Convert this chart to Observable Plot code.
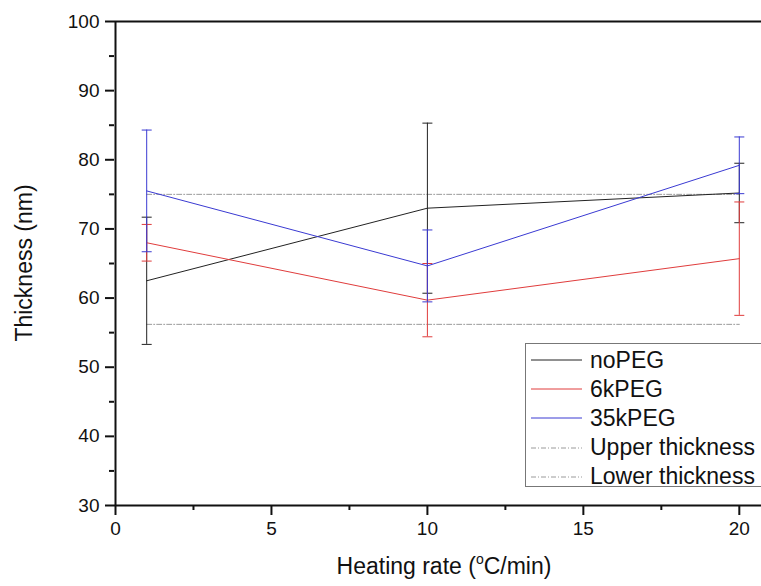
<!DOCTYPE html>
<html>
<head>
<meta charset="utf-8">
<script src="https://cdn.jsdelivr.net/npm/d3@7"></script>
<script src="https://cdn.jsdelivr.net/npm/@observablehq/plot@0.6"></script>
<style>
  html, body { margin: 0; padding: 0; background: #fff; overflow: hidden; }
  #wrap { position: relative; width: 761px; height: 586px; overflow: hidden; font-family: "Liberation Sans", Arial, sans-serif; color: #111; }
  #wrap svg { overflow: hidden; }
  .xtitle { position: absolute; left: 0; width: 888px; text-align: center; top: 553px; font-size: 23px; white-space: nowrap; }
  .xtitle sup { font-size: 14px; vertical-align: 0; position: relative; top: -10px; }
  .ytitle { position: absolute; left: 24px; top: 263px; font-size: 23px; white-space: nowrap; transform: translate(-50%, -50%) rotate(-90deg); }
  #legend { position: absolute; left: 525px; top: 343px; width: 260px; height: 144px; border: 1px solid #777; background: #fff; box-sizing: border-box; }
  .lrow { position: absolute; left: 0; height: 28px; display: flex; align-items: center; font-size: 23px; white-space: nowrap; }
  .lrow svg { margin-left: 5px; margin-right: 8px; }
</style>
</head>
<body>
<div id="wrap"></div>
<script>
// ---- data ----
const xs = [1, 10, 20];
const seriesNames = ["noPEG", "6kPEG", "35kPEG"];
const noPEG = [62.5, 73.0, 75.2];
const noPEGErr = [9.2, 12.3, 4.3];
const peg6k = [68.0, 59.7, 65.7];
const peg6kErr = [2.65, 5.3, 8.2];
const peg35k = [75.5, 64.65, 79.2];
const peg35kErr = [8.8, 5.2, 4.1];
const refNames = ["Upper thickness", "Lower thickness"];
const refValues = [75.0, 56.2];
const refX = [1, 20];
const xTicks = [0, 5, 10, 15, 20];
const xMinorTicks = [2.5, 7.5, 12.5, 17.5];
const yTicks = [30, 40, 50, 60, 70, 80, 90, 100];
const yMinorTicks = [35, 45, 55, 65, 75, 85, 95];

// ---- styles ----
const colors = ["#222222", "#e03c3c", "#3a3ad2"];
const refColor = "#9a9a9a";
const refDash = "5,2,1,2";

const seriesVals = [noPEG, peg6k, peg35k];
const seriesErrs = [noPEGErr, peg6kErr, peg35kErr];
const rows = [];
seriesNames.forEach((name, i) => {
  xs.forEach((x, j) => rows.push({series: name, x, y: seriesVals[i][j], err: seriesErrs[i][j]}));
});
const refRows = [];
refNames.forEach((name, i) => refX.forEach(x => refRows.push({series: name, x, y: refValues[i]})));

const capSymbol = {
  draw(ctx, size) {
    const w = Math.sqrt(size / Math.PI);
    ctx.moveTo(-w, 0);
    ctx.lineTo(w, 0);
  }
};

const seriesMarks = [];
seriesNames.forEach((name, i) => {
  const d = rows.filter(r => r.series === name);
  seriesMarks.push(
    Plot.ruleX(d, {x: "x", y1: r => r.y - r.err, y2: r => r.y + r.err, stroke: colors[i], strokeWidth: 1}),
    Plot.dot(d, {x: "x", y: r => r.y - r.err, symbol: capSymbol, r: 5, fill: "none", stroke: colors[i], strokeWidth: 1}),
    Plot.dot(d, {x: "x", y: r => r.y + r.err, symbol: capSymbol, r: 5, fill: "none", stroke: colors[i], strokeWidth: 1}),
    Plot.line(d, {x: "x", y: "y", stroke: colors[i], strokeWidth: 1})
  );
});

const chart = Plot.plot({
  width: 761,
  height: 586,
  marginLeft: 114,
  marginTop: 21,
  marginBottom: 81,
  marginRight: 0,
  style: {fontFamily: "Liberation Sans, Arial, sans-serif", color: "#111", overflow: "hidden"},
  x: {domain: [0, 21], range: [115, 770]},
  y: {domain: [30, 100]},
  marks: [
    Plot.line(refRows, {x: "x", y: "y", z: "series", stroke: refColor, strokeWidth: 1, strokeDasharray: refDash}),
    ...seriesMarks,
    Plot.axisY({ticks: yTicks, tickSize: 9, tickPadding: 6, fontSize: 19, strokeWidth: 2, stroke: "#111", label: null}),
    Plot.axisY({ticks: yMinorTicks, tickSize: 5, text: null, strokeWidth: 2, stroke: "#111", label: null}),
    Plot.axisX({ticks: xTicks, tickSize: 10, tickPadding: 6, fontSize: 19, strokeWidth: 2, stroke: "#111", label: null}),
    Plot.axisX({ticks: xMinorTicks, tickSize: 5, text: null, strokeWidth: 2, stroke: "#111", label: null}),
    Plot.ruleY([30, 100], {stroke: "#111", strokeWidth: 2}),
    Plot.ruleX([0], {stroke: "#111", strokeWidth: 2})
  ]
});

const wrap = document.getElementById("wrap");
wrap.appendChild(chart);

const xt = document.createElement("div");
xt.className = "xtitle";
xt.innerHTML = "Heating rate (<sup>o</sup>C/min)";
wrap.appendChild(xt);

const yt = document.createElement("div");
yt.className = "ytitle";
yt.textContent = "Thickness (nm)";
wrap.appendChild(yt);

// legend
const legend = document.createElement("div");
legend.id = "legend";
const legendItems = seriesNames.map((n, i) => ({name: n, color: colors[i], dash: null}))
  .concat(refNames.map(n => ({name: n, color: refColor, dash: refDash})));
legendItems.forEach((it, i) => {
  const row = document.createElement("div");
  row.className = "lrow";
  row.style.top = (2 + i * 29.2) + "px";
  const ns = "http://www.w3.org/2000/svg";
  const s = document.createElementNS(ns, "svg");
  s.setAttribute("width", "51");
  s.setAttribute("height", "4");
  const l = document.createElementNS(ns, "line");
  l.setAttribute("x1", "0"); l.setAttribute("x2", "51");
  l.setAttribute("y1", "2"); l.setAttribute("y2", "2");
  l.setAttribute("stroke", it.color);
  l.setAttribute("stroke-width", "1");
  if (it.dash) l.setAttribute("stroke-dasharray", it.dash);
  s.appendChild(l);
  row.appendChild(s);
  const t = document.createElement("span");
  t.textContent = it.name;
  row.appendChild(t);
  legend.appendChild(row);
});
wrap.appendChild(legend);
</script>
</body>
</html>
